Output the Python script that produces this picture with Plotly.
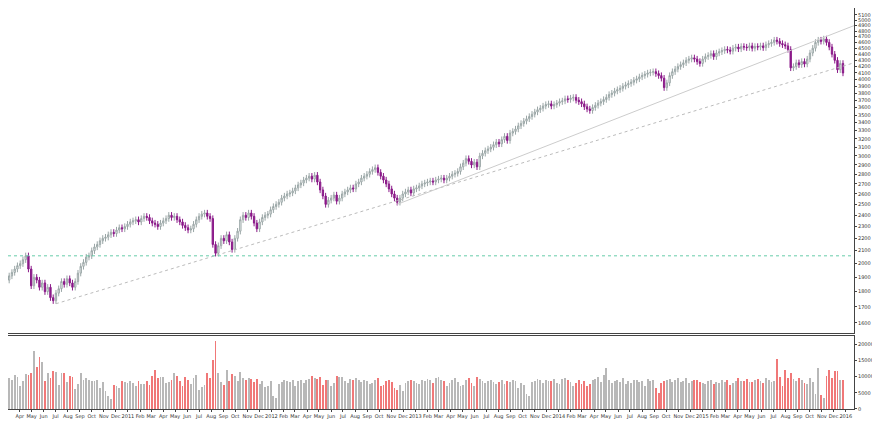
import plotly.graph_objects as go
import pandas as pd

start_date = "2010-03-05"
closes = [
 1910,1935,1960,1985,2000,2030,2060, 1960,1840,
 1900,1880,1830,1860,1800,1830,1760,1740,
 1790,1820,1870,1850,1890,1860,1830,
 1870,1930,1980,2010,2050,2060,2100,2130,2150,2180,2200,2210,
 2230,2250,2240,2270,2290,2280,2300,2320,2340,2350,
 2360,2340,2370,2390,2380,2350,2330,2320,
 2300,2330,2350,2370,2400,2380,2390,2360,2340,2310,2290,2270,2280,2320,2360,2390,2410,2420,2390,2370,
 2150,2080,2140,2200,2180,2230,2170,
 2110,2200,2260,2360,2400,2380,2420,2390,2330,
 2280,2340,2380,2400,2410,2450,2480,
 2500,2520,2560,2580,2600,2610,2630,2660,2690,2710,2740,2760,2780,
 2750,2790,2720,2640,2580,2500,
 2540,2560,2590,2530,2560,2600,2620,2640,2660,2650,2700,2720,2760,2780,2800,2830,2850,2870,
 2820,2780,2740,2700,2650,2600,2560,2520,
 2560,2600,2620,2640,2610,2650,2660,2680,2700,
 2710,2720,2730,2720,2740,2750,2760,2740,2760,2780,2800,2810,2830,2880,2920,2970,
 2940,2900,2930,2880,3000,
 3030,3060,3080,3100,3130,3160,3140,3190,3230,3180,3270,3290,3320,3360,3390,3420,3450,3480,3510,3540,3570,3590,3620,3640,3650,
 3620,3640,3660,3680,3690,3720,3710,3730,3740,3700,3680,3650,3610,3580,3560,3600,3630,3660,3680,
 3710,3740,3780,3800,3830,3850,3870,3900,3920,3940,3960,3990,4010,4040,4060,4080,4100,4110,4120,4090,4060,4020,
 3880,3950,4060,4120,4160,4200,4230,4260,4300,4320,4340,4320,4280,4250,
 4320,4360,4380,4410,4360,4420,4440,4460,4480,4470,4450,4500,4520,4490,4530,4520,4510,4540,4500,4530,4520,4540,4510,4560,4580,4600,4640,4620,4580,4560,4540,4480,
 4180,4200,4260,4230,4280,4240,4320,
 4420,4500,4600,4640,4620,4660,4600,
 4520,4400,4300,4150,4250,4100,
]
first_open = 1880
volumes = [
 9500,9000,10500,9800,7000,8500,10800,10600,11000,18000,12800,16000,14500,8500,11000,9500,11600,11500,7500,11200,11000,8200,10200,10000,6200,7800,11000,8800,9500,9000,8600,8500,9000,6500,8300,5500,4000,3000,7500,7000,6500,8500,
 8400,8000,8500,8000,7000,8700,7600,7800,8500,7500,10200,12000,9500,9800,10000,8000,8200,9000,11000,10200,8500,7200,9800,8800,7600,9500,10600,6000,6800,7300,11000,9500,15000,21000,11000,8200,7500,12000,8500,10800,10200,8500,11500,9500,9000,9600,9200,8300,9200,7800,8600,6700,7000,8600,4000,3500,
 7600,8200,8800,8700,8400,8800,7000,8600,9000,8000,8800,9200,10200,9400,9200,10000,7500,8800,9000,7000,8000,10200,9800,10000,8500,8000,9200,8800,9400,9000,8200,9000,8600,7600,8000,9000,9500,7000,7500,8500,9000,8200,6500,6000,7400,5500,
 8000,8500,9000,8700,8000,7800,9000,8500,9200,8800,8000,9500,10000,9000,8600,7200,8000,9000,9500,8300,7000,7500,8800,9500,8000,7200,9800,9300,8500,8000,8500,9000,8200,7800,8400,9000,7800,8500,8300,8900,8700,6500,8000,7500,4500,4000,
 8200,8600,9200,8800,8000,9000,8500,8700,9300,8000,7600,9200,9600,8800,8200,7200,8000,9000,7800,8600,7000,7600,8800,9200,10000,8200,10500,12500,9000,8000,8600,9000,8200,9500,7800,8500,8000,8800,9000,8400,8600,7000,9200,8600,9000,6500,5000,
 8000,8500,9000,9200,8200,8800,9500,8200,8600,9400,8000,8600,9000,8800,8300,8000,7800,8600,9000,7600,8200,8000,8800,8400,9000,7400,8000,8500,9600,8600,
 8700,9100,8400,8200,8900,9300,8600,8000,9400,8800,8200,8600,
 15500,10000,7200,12000,9600,11200,9300,8600,9600,8800,8100,7800,9400,8200,4700,12500,4200,3500,10200,12000,9500,11800,11800,
]

n = len(closes)
vols = volumes[:n] + [9000] * max(0, n - len(volumes))
dates = pd.date_range(start_date, periods=n, freq="7D")
opens = [first_open] + closes[:-1]
highs = [max(o, c) * 1.012 for o, c in zip(opens, closes)]
lows = [min(o, c) * 0.988 for o, c in zip(opens, closes)]
vcolors = ["#b8b8b8" if c >= o else "#f07878" for o, c in zip(opens, closes)]

fig = go.Figure()
fig.add_trace(go.Candlestick(
    x=dates, open=opens, high=highs, low=lows, close=closes,
    increasing=dict(line=dict(color="#9aa6a6", width=1), fillcolor="white"),
    decreasing=dict(line=dict(color="#8b1a89", width=1), fillcolor="#8b1a89"),
    whiskerwidth=0, xaxis="x", yaxis="y", showlegend=False))
fig.add_trace(go.Bar(x=dates, y=vols, marker_color=vcolors, marker_line_width=0,
                     width=1000*3600*24*2.2, xaxis="x2", yaxis="y2", showlegend=False))

fig.add_shape(type="line", xref="x", yref="y", x0="2010-07-02", y0=1720, x1="2016-01-22", y1=4260,
              line=dict(color="#bbbbbb", width=1, dash="dot"))
fig.add_shape(type="line", xref="x", yref="y", x0="2012-11-16", y0=2500, x1="2016-01-22", y1=4900,
              line=dict(color="#cccccc", width=1))
fig.add_shape(type="line", xref="x", yref="y", x0="2010-03-02", y0=2060, x1="2016-01-22", y1=2060,
              line=dict(color="#66ccaa", width=1, dash="dot"))

months = pd.date_range("2010-03-01", "2016-01-01", freq="MS")
tickvals = list(months)
ticktext = [d.strftime("%Y") if d.month == 1 else d.strftime("%b") for d in months]
xrange = ["2010-03-02", "2016-01-22"]
price_ticks = list(range(1600, 5200, 100))

fig.update_layout(
    width=880, height=421, margin=dict(l=0, r=34, t=0, b=20),
    plot_bgcolor="white", paper_bgcolor="white",
    font=dict(family="DejaVu Sans", size=5, color="#333"),
    xaxis=dict(domain=[0, 1], range=xrange, anchor="y", showticklabels=False,
               showgrid=False, rangeslider=dict(visible=False), showline=True,
               linecolor="#444", mirror=True, tickvals=tickvals),
    yaxis=dict(domain=[0.19, 1], type="log", range=[3.188, 3.719], side="right",
               tickvals=price_ticks, ticktext=[str(v) for v in price_ticks],
               showgrid=False, showline=True, linecolor="#444", mirror=True,
               ticks="outside", ticklen=2, tickfont=dict(size=5)),
    xaxis2=dict(domain=[0, 1], range=xrange, anchor="y2", tickvals=tickvals, ticktext=ticktext,
                showgrid=False, showline=True, linecolor="#444", mirror=True,
                ticks="outside", ticklen=2, tickangle=0, tickfont=dict(size=5)),
    yaxis2=dict(domain=[0, 0.182], range=[0, 22500], side="right",
                tickvals=[0, 5000, 10000, 15000, 20000],
                ticktext=["0", "5000", "10000", "15000", "20000"], showgrid=False,
                showline=True, linecolor="#444", mirror=True, ticks="outside",
                ticklen=2, tickfont=dict(size=5)),
    bargap=0,
)
fig.write_html("out.html")
